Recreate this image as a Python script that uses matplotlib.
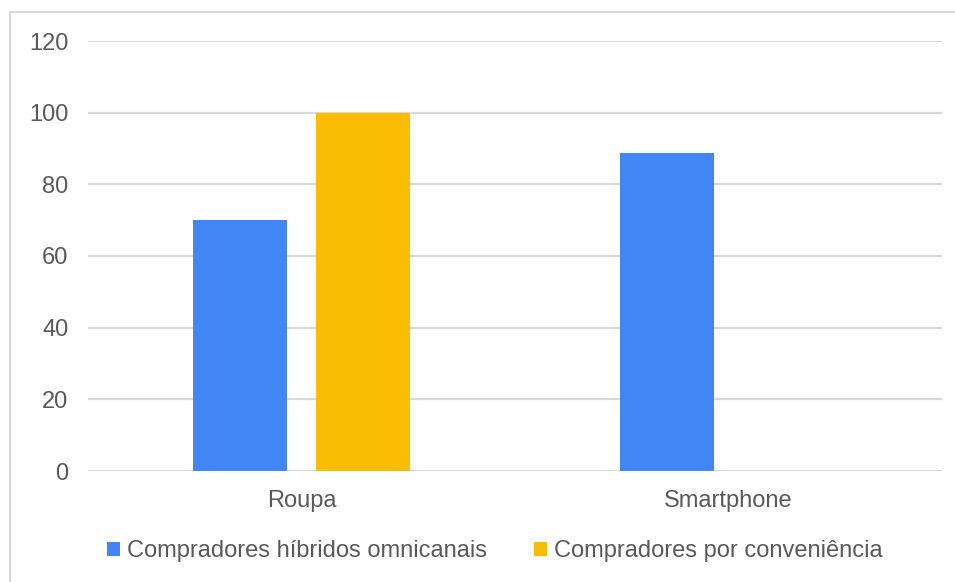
import matplotlib.pyplot as plt
from matplotlib.patches import Rectangle
import numpy as np

plt.rcParams['font.family'] = ['Liberation Sans', 'DejaVu Sans']

# chart data
categories = ['Roupa', 'Smartphone']
series_names = ['Compradores híbridos omnicanais', 'Compradores por conveniência']
hibridos = [70, 88.7]
conveniencia = [100, 0]
y_ticks = [0, 20, 40, 60, 80, 100, 120]

blue = '#4285f4'
yellow = '#fbbc04'
grid_col = '#d9d9d9'
text_col = '#595959'

W, H = 955, 582
fig = plt.figure(figsize=(W / 100, H / 100), dpi=100)
ax = fig.add_axes([88 / W, (H - 471) / H, (942 - 88) / W, (471 - 41) / H])

x = np.arange(len(categories))
width = 0.22
offset = 0.143
ax.bar(x - offset, hibridos, width, color=blue, label=series_names[0], zorder=3)
ax.bar(x + offset, conveniencia, width, color=yellow, label=series_names[1], zorder=3)

ax.set_xlim(-0.5, 1.5)
ax.set_ylim(0, 120)
ax.set_yticks(y_ticks)
ax.set_xticks(x)
ax.set_xticklabels(categories)
ax.yaxis.grid(True, color=grid_col, linewidth=1.6, zorder=0)
ax.tick_params(axis='both', length=0, labelsize=17, labelcolor=text_col)
ax.tick_params(axis='y', pad=14)
ax.tick_params(axis='x', pad=14)
for s in ax.spines.values():
    s.set_visible(False)

leg = fig.legend(loc='center', bbox_to_anchor=(495 / W, (H - 551) / H), ncol=2,
                 frameon=False, fontsize=17, handlelength=0.55, handleheight=0.55,
                 handletextpad=0.3, columnspacing=2.0)
for t in leg.get_texts():
    t.set_color(text_col)

# outer frame of the chart
fig.patches.append(Rectangle((10 / W, -0.05), 1.0, (H - 12) / H + 0.05,
                             transform=fig.transFigure, fill=False,
                             edgecolor=grid_col, linewidth=1.5))

fig.savefig('out.png', dpi=100, facecolor='white')
